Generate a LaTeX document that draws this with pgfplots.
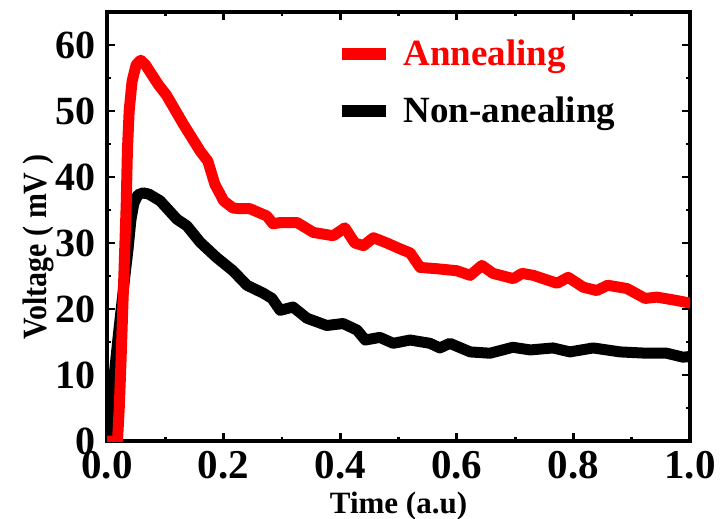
\documentclass[border=0pt]{standalone}
\usepackage{fontspec}
\setmainfont{Liberation Serif}
\usepackage{graphicx}
\usepackage{pgfplots}
\pgfplotsset{compat=1.18}
\begin{document}
\begin{tikzpicture}[x=1pt,y=1pt]
\useasboundingbox (0,0) rectangle (363,259);
\begin{axis}[
  at={(53.5pt,38.5pt)}, anchor=south west,
  scale only axis, width=291.5pt, height=214.5pt,
  xmin=0, xmax=1, ymin=0, ymax=65,
  xtick={0,0.2,0.4,0.6,0.8,1.0},
  ytick={0,10,20,30,40,50,60},
  minor x tick num=1, minor y tick num=1,
  tick align=inside,
  major tick length=4pt, minor tick length=2pt,
  axis line style={line width=1.6pt},
  every tick/.style={black, line width=1.4pt},
  /pgf/number format/assume math mode=true,
  xticklabel style={font=\bfseries\fontsize{20.5}{20.5}\selectfont, inner sep=1pt, yshift=-4pt, /pgf/number format/.cd, fixed, fixed zerofill, precision=1},
  yticklabel style={font=\bfseries\fontsize{20}{20}\selectfont, inner sep=1pt, xshift=-4.7pt},
  xlabel={Time (a.u)},
  ylabel={\scalebox{0.88}[1]{Voltage ( mV )}},
  xlabel style={font=\bfseries\fontsize{15.5}{15.5}\selectfont, at={(axis description cs:0.5,-0.168)}, anchor=base},
  ylabel style={font=\bfseries\fontsize{17}{17}\selectfont, at={(axis description cs:-0.104,0.452)}, anchor=base, rotate=0},
  legend style={draw=none, fill=none, at={(axis description cs:0.381,0.955)}, anchor=north west,
    font=\bfseries\fontsize{18.5}{18.5}\selectfont, row sep=10pt, column sep=4pt},
  legend cell align=left,
  legend image code/.code={\draw[line width=6pt, line cap=butt] (0pt,0pt) -- (22pt,0pt);},
  reverse legend,
]
\addplot[black, line width=5.5pt, line join=round, line cap=round] coordinates {
(0,0) (0.01,8) (0.02,16.5) (0.03,24.5) (0.036,29) (0.041,33.5) (0.046,36) (0.053,37.3) (0.062,37.6) (0.072,37.4) (0.091,36.4) (0.12,33.6) (0.137,32.6) (0.16,30.1) (0.188,27.8) (0.216,25.8) (0.24,23.6) (0.268,22.4) (0.283,21.6) (0.297,19.8) (0.319,20.3) (0.343,18.6) (0.377,17.5) (0.405,17.8) (0.429,16.8) (0.443,15.3) (0.468,15.7) (0.491,14.8) (0.52,15.3) (0.554,14.8) (0.571,14.1) (0.588,14.8) (0.623,13.5) (0.657,13.3) (0.696,14.2) (0.726,13.8) (0.765,14.1) (0.794,13.5) (0.834,14.1) (0.88,13.5) (0.926,13.3) (0.96,13.3) (0.988,12.7) (1.0,12.8)
};
\addlegendentry{Non-anealing}
\addplot[red, line width=5.5pt, line join=round, line cap=round] coordinates {
(0,0) (0.018,0) (0.021,5) (0.024,12) (0.027,20) (0.030,28) (0.033,36) (0.035,44) (0.038,50) (0.043,54.5) (0.05,57) (0.058,57.7) (0.066,57) (0.074,55.9) (0.088,54) (0.102,52.4) (0.131,48) (0.16,43.9) (0.173,42.4) (0.185,38.9) (0.2,36.4) (0.216,35.3) (0.228,35.2) (0.245,35.2) (0.274,34.1) (0.285,32.9) (0.297,33.1) (0.326,33.1) (0.354,31.6) (0.388,31.1) (0.408,32.3) (0.425,30.0) (0.44,29.6) (0.457,30.8) (0.48,30.0) (0.503,29.1) (0.52,28.5) (0.537,26.3) (0.566,26.1) (0.6,25.8) (0.623,25.1) (0.643,26.6) (0.662,25.4) (0.697,24.6) (0.712,25.4) (0.731,25.1) (0.772,23.9) (0.791,24.8) (0.817,23.3) (0.84,22.8) (0.859,23.6) (0.892,23.1) (0.923,21.6) (0.943,21.8) (0.97,21.4) (1.0,20.9)
};
\addlegendentry{\textcolor{red}{Annealing}}
\end{axis}
\end{tikzpicture}
\end{document}
